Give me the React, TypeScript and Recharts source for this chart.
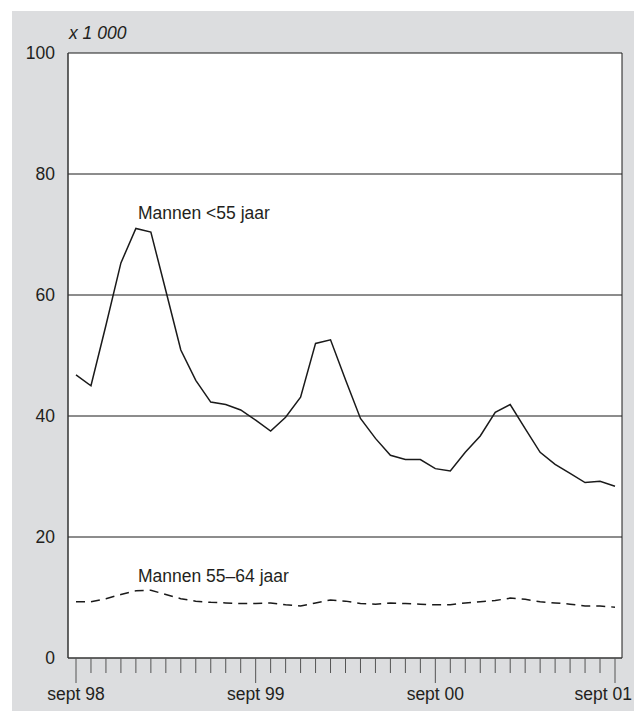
import { CartesianGrid, Line, LineChart, XAxis, YAxis } from "recharts";

const months = [
  "sep 98", "okt 98", "nov 98", "dec 98", "jan 99", "feb 99", "mrt 99", "apr 99", "mei 99", "jun 99", "jul 99", "aug 99",
  "sep 99", "okt 99", "nov 99", "dec 99", "jan 00", "feb 00", "mrt 00", "apr 00", "mei 00", "jun 00", "jul 00", "aug 00",
  "sep 00", "okt 00", "nov 00", "dec 00", "jan 01", "feb 01", "mrt 01", "apr 01", "mei 01", "jun 01", "jul 01", "aug 01",
  "sep 01",
];

const tickLabels = ["sept 98", "sept 99", "sept 00", "sept 01"];

// x 1 000
const mannenJong = [
  46.8, 45.0, 55.0, 65.3, 71.0, 70.4, 60.7, 50.9, 45.9, 42.3, 41.9, 41.0,
  39.3, 37.5, 39.8, 43.1, 52.0, 52.6, 46.0, 39.6, 36.3, 33.5, 32.8, 32.8,
  31.3, 30.9, 34.0, 36.7, 40.6, 41.9, 37.9, 34.0, 32.0, 30.5, 29.0, 29.2,
  28.4,
];

const mannenOud = [
  9.3, 9.3, 9.8, 10.5, 11.1, 11.2, 10.5, 9.8, 9.4, 9.2, 9.1, 9.0,
  9.0, 9.1, 8.8, 8.6, 9.1, 9.6, 9.4, 9.0, 8.9, 9.1, 9.0, 8.9,
  8.8, 8.8, 9.1, 9.3, 9.5, 9.9, 9.7, 9.3, 9.1, 8.9, 8.6, 8.6,
  8.4,
];

const yTicks = [0, 20, 40, 60, 80, 100];

const data = months.map((m, i) => ({ maand: m, jong: mannenJong[i], oud: mannenOud[i] }));

const font = '"Liberation Sans", Arial, Helvetica, sans-serif';
const fs = 17.5;

function MonthTick(props: any) {
  const { x, y, index } = props;
  const major = index % 12 === 0;
  const last = index === months.length - 1;
  return (
    <g>
      <line x1={x} x2={x} y1={y} y2={y + (major ? 25 : 15)} stroke="#555" strokeWidth={1} />
      {major && (
        <text
          x={last ? 632 : x}
          y={y + 42}
          textAnchor={last ? "end" : "middle"}
          fontSize={fs}
          fill="#231f20"
          fontFamily={font}
        >
          {tickLabels[index / 12]}
        </text>
      )}
    </g>
  );
}

const label = (top: number, left: number, italic = false) => ({
  position: "absolute" as const,
  top,
  left,
  fontFamily: font,
  fontSize: fs,
  lineHeight: "20px",
  color: "#231f20",
  fontStyle: italic ? "italic" : "normal",
  whiteSpace: "nowrap" as const,
});

export default function App() {
  return (
    <div style={{ position: "absolute", left: 0, top: 0, width: 634, height: 711 }}>
      <div style={{ position: "absolute", left: 12, top: 11, width: 622, height: 700, background: "#dcdddf" }} />
      <div style={{ position: "absolute", left: 0, top: 0 }}>
        <LineChart width={634} height={711} data={data} margin={{ top: 53, right: 12, bottom: 13, left: 18 }}>
          <CartesianGrid
            fill="#ffffff"
            stroke="#1a1a1a"
            strokeWidth={1}
            horizontalValues={[20, 40, 60, 80, 100]}
            verticalPoints={[622]}
          />
          <XAxis
            dataKey="maand"
            height={40}
            interval={0}
            padding={{ left: 8, right: 7 }}
            axisLine={{ stroke: "#333", strokeWidth: 1.5 }}
            tickLine={false}
            tickSize={0}
            tickMargin={0}
            tick={<MonthTick />}
          />
          <YAxis
            width={50}
            domain={[0, 100]}
            ticks={yTicks}
            axisLine={{ stroke: "#333", strokeWidth: 1.5 }}
            tickLine={false}
            tickSize={0}
            tickMargin={13}
            tick={{ fill: "#231f20", fontSize: fs, fontFamily: font }}
          />
          <Line
            dataKey="jong"
            stroke="#1a1a1a"
            strokeWidth={1.5}
            dot={false}
            isAnimationActive={false}
          />
          <Line
            dataKey="oud"
            stroke="#1a1a1a"
            strokeWidth={1.5}
            strokeDasharray="9 6"
            dot={false}
            isAnimationActive={false}
          />
        </LineChart>
      </div>
      <div style={label(23, 69, true)}>x 1 000</div>
      <div style={label(203, 138)}>Mannen &lt;55 jaar</div>
      <div style={label(566, 138)}>Mannen 55–64 jaar</div>
    </div>
  );
}
